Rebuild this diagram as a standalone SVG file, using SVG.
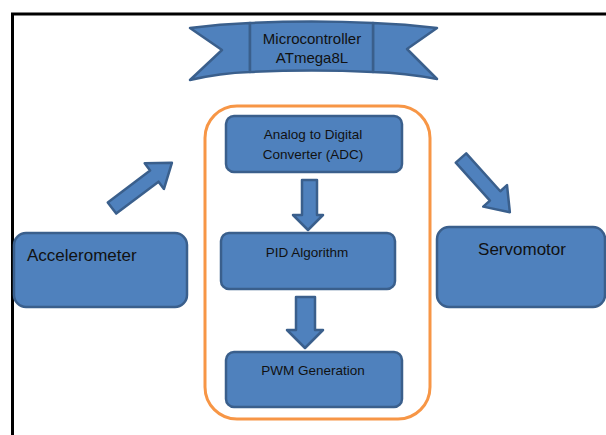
<svg xmlns="http://www.w3.org/2000/svg" width="606" height="435" viewBox="0 0 606 435">
<style>
.blk{fill:#4F81BD;stroke:#3A5F8C;stroke-width:2.5;stroke-linejoin:round}
.t{font-family:"Liberation Sans",Arial,sans-serif;fill:#111;text-anchor:middle}
.s{font-size:13.5px}
.r{font-size:15px}
.b{font-size:17px}
</style>
<rect width="606" height="435" fill="#fff"/>
<g id="frame" fill="none" stroke="#000" stroke-width="3">
<path d="M12.5 435 V14 H606"/>
</g>
<g id="microcontroller">
<path class="blk" d="M190 28 Q220 24 250 23 L250 72 Q220 73 190 80 L222 50 Z"/>
<path class="blk" d="M437 28 Q405 24 373 23 L373 72 Q405 73 437 79 L407 49 Z"/>
<path class="blk" d="M250 23 Q312 20 373 23 L373 72 Q312 69 250 72 Z"/>
<text class="t r" x="312" y="44">Microcontroller</text>
<text class="t r" x="312" y="63">ATmega8L</text>
</g>
<g id="mcu-boundary">
<rect x="205" y="106" width="225" height="313" rx="32" fill="none" stroke="#F79646" stroke-width="3"/>
</g>
<g id="adc">
<rect class="blk" x="226" y="116" width="176" height="56" rx="8"/>
<text class="t s" x="313" y="139">Analog to Digital</text>
<text class="t s" x="313" y="159">Converter (ADC)</text>
</g>
<g id="pid">
<rect class="blk" x="221" y="233" width="174" height="56" rx="8"/>
<text class="t s" x="307" y="257">PID Algorithm</text>
</g>
<g id="pwm">
<rect class="blk" x="226" y="352" width="176" height="55" rx="8"/>
<text class="t s" x="313" y="375">PWM Generation</text>
</g>
<g id="accelerometer">
<rect class="blk" x="14" y="233" width="173" height="74" rx="12"/>
<text class="t b" x="27" y="261" style="text-anchor:start">Accelerometer</text>
</g>
<g id="servomotor">
<rect class="blk" x="437" y="227" width="168" height="80" rx="12"/>
<text class="t b" x="522" y="255">Servomotor</text>
</g>
<g id="connectors">
<polygon class="blk" transform="translate(112,208) rotate(-37)" points="0,-7 53,-7 53,-16 75,0 53,16 53,7 0,7"/>
<polygon class="blk" transform="translate(461,158) rotate(48)" points="0,-7 51,-7 51,-16 73,0 51,16 51,7 0,7"/>
<polygon class="blk" points="302,180 317,180 317,215 323,215 308,230 293,215 302,215"/>
<polygon class="blk" points="296,297 315,297 315,330 323,330 305,348 287,330 296,330"/>
</g>
</svg>
